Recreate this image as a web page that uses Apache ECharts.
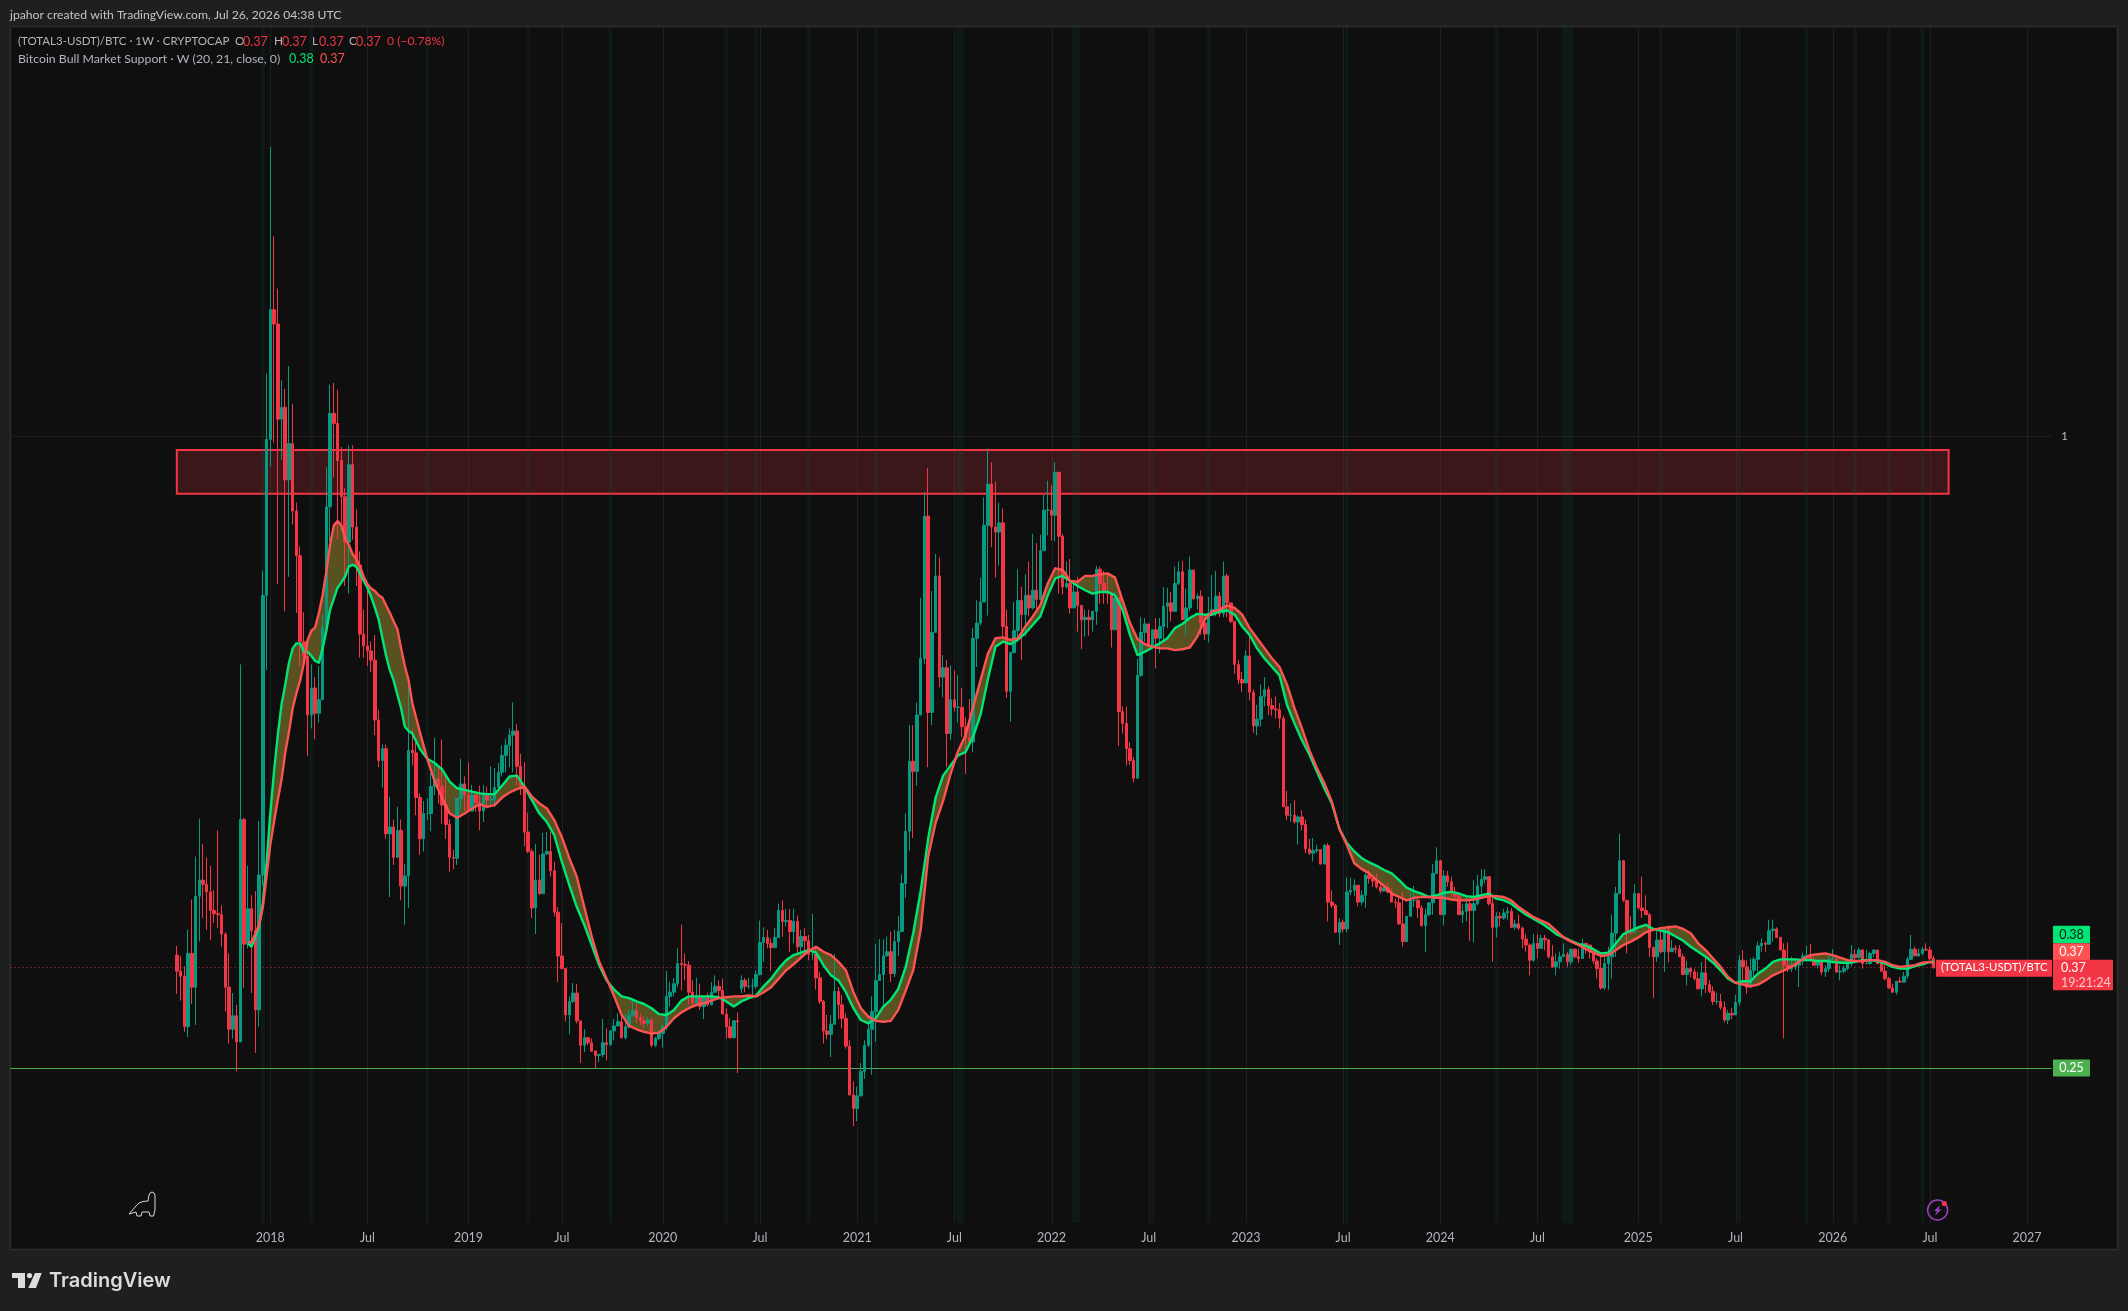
<!DOCTYPE html>
<html><head><meta charset="utf-8">
<style>html,body{margin:0;padding:0;background:#1f1f1f;overflow:hidden}#c{width:2128px;height:1311px}</style>
<script src="https://cdn.jsdelivr.net/npm/echarts@6/dist/echarts.min.js"></script>
</head><body><div id="c"></div>
<script>
// Values are in thousandths of the ratio, read week by week off the picture.
const firstWeekOffset = -25;   // weeks relative to 2018-01-01
const firstOpen = 384;
const closes = [
365,359,299,386,346,454,473,468,459,437,
433,432,409,346,296,312,281,545,397,439,
413,319,479,811,996,1150,1133,1020,1034,948,
991,911,858,756,739,669,701,671,687,773,
916,1027,1015,971,928,874,966,892,847,765,
751,745,734,663,615,629,528,536,500,532,
466,478,627,624,571,522,552,552,584,593,
584,562,539,500,499,570,587,574,555,574,
565,555,574,568,569,583,601,621,633,645,
650,608,584,530,507,440,473,457,504,507,
484,435,383,368,313,329,339,306,277,286,
280,270,265,266,280,278,294,300,305,286,
299,312,318,310,306,303,307,277,285,291,
299,335,340,350,374,373,372,340,327,335,
323,335,325,340,347,342,314,299,286,306,
305,354,347,347,347,361,399,405,398,393,
405,437,424,425,412,424,394,406,401,385,
385,357,329,294,290,302,341,325,309,276,
218,202,217,246,277,296,317,354,361,383,
388,362,400,412,469,531,614,602,669,736,
905,672,767,834,714,725,647,687,678,678,
655,642,637,760,778,803,894,943,892,886,
897,774,697,743,769,805,788,811,796,817,
806,864,912,912,906,957,881,821,825,796,
815,799,782,785,782,792,842,825,815,813,
770,808,673,659,629,615,594,716,767,777,
751,770,760,774,798,802,792,825,839,782,
796,841,807,810,778,765,790,794,810,789,
834,802,780,729,711,707,739,696,656,664,
691,699,680,676,675,665,560,550,550,542,
548,539,510,505,508,509,492,514,447,443,
411,423,415,459,461,467,447,455,479,475,
472,465,460,464,459,447,446,421,400,430,
449,449,440,419,432,446,481,496,432,478,
471,459,454,432,436,445,437,445,466,474,
477,445,417,430,428,434,436,417,421,416,
403,396,378,398,392,404,402,382,370,376,
382,385,376,391,382,380,398,396,388,377,
368,345,374,382,410,457,496,449,412,411,
457,440,437,432,393,382,402,388,414,388,
392,391,382,361,368,364,356,344,363,349,
341,329,329,322,307,315,313,328,378,370,
346,366,379,395,398,397,413,415,405,390,
372,368,370,372,378,383,384,378,372,376,
364,368,379,379,364,365,368,374,385,381,
390,374,374,386,390,374,365,356,345,340,
353,352,359,379,391,383,386,391,390,380,
369];
const lows = [
338,330,293,287,326,301,400,428,414,402,
422,416,394,317,279,285,246,281,345,392,
339,268,299,466,722,964,992,824,972,792,
833,895,790,727,731,620,653,640,660,687,
773,875,951,877,896,822,813,877,822,737,
737,727,720,645,607,583,522,453,491,499,
449,420,440,609,550,503,507,544,531,574,
564,540,522,483,486,491,556,555,554,555,
554,532,542,558,562,560,582,596,601,607,
601,586,574,513,505,428,409,455,459,503,
477,430,352,367,305,290,327,303,256,269,
277,269,250,257,263,259,276,283,299,285,
284,297,311,303,301,297,299,275,275,283,
274,295,323,335,346,342,354,325,323,323,
319,308,323,325,339,334,314,285,285,286,
244,339,340,344,336,344,360,376,392,365,
392,406,406,418,388,398,386,380,388,378,
378,343,326,279,284,263,302,308,297,273,
218,181,187,216,237,275,242,281,354,325,
384,352,358,383,423,452,508,523,585,669,
729,607,657,767,702,690,607,639,673,660,
643,599,632,625,726,775,808,787,868,832,
846,762,689,661,742,758,734,762,786,794,
794,805,865,882,876,875,813,812,819,789,
796,768,747,762,763,768,776,801,801,801,
749,770,632,647,609,610,589,593,714,756,
750,750,724,742,758,772,780,813,823,782,
764,792,805,794,764,758,755,787,786,785,
785,785,778,718,706,696,707,686,648,645,
655,679,669,668,665,653,560,544,542,540,
515,532,505,503,495,505,492,493,424,440,
411,396,411,411,455,454,442,443,440,469,
465,463,457,459,457,447,440,420,394,400,
432,441,428,418,388,430,432,480,432,419,
465,453,449,432,422,424,401,399,443,457,
469,443,376,405,418,426,426,416,414,414,
392,388,360,376,380,392,390,380,369,360,
368,382,370,372,380,375,380,386,380,374,
356,343,343,343,356,382,457,447,386,408,
428,438,428,432,382,333,376,386,364,375,
388,386,382,360,348,358,354,343,335,339,
339,325,325,319,304,302,308,313,324,352,
338,347,356,364,388,388,397,400,404,390,
285,364,364,366,346,372,376,376,371,368,
360,358,364,374,363,354,362,366,371,378,
380,368,373,373,382,373,364,354,344,339,
337,351,353,356,379,383,382,384,389,378,
368];
const highs = [
395,383,371,414,450,501,546,516,500,490,
461,532,443,411,386,339,325,729,547,490,
455,460,543,840,1074,1343,1237,1175,1066,1056,
1083,1038,921,869,791,745,729,714,727,788,
963,1061,1063,1055,987,938,989,989,913,863,
794,818,756,764,675,634,634,572,545,560,
545,492,710,653,641,576,567,570,600,642,
608,640,596,545,509,570,617,596,613,586,
578,585,586,584,608,606,612,633,641,653,
684,658,623,613,553,510,516,503,529,530,
530,495,441,422,368,335,351,350,306,296,
287,285,271,267,308,297,295,308,315,315,
315,319,329,327,315,311,311,309,287,295,
303,365,352,357,392,420,386,377,354,357,
350,336,339,352,360,354,356,321,309,307,
316,360,357,357,356,366,425,417,414,404,
416,445,449,439,439,439,431,414,416,408,
433,394,364,331,313,313,385,346,337,315,
283,234,228,256,283,309,335,397,403,403,
406,412,414,430,480,552,657,657,684,808,
933,962,816,860,856,740,734,728,722,716,
701,666,688,772,805,832,927,985,969,946,
921,914,794,744,803,842,821,836,851,884,
873,883,930,947,942,969,953,884,851,854,
829,833,799,794,794,792,846,845,840,835,
815,815,808,679,679,637,619,736,785,784,
777,770,784,784,821,820,815,845,851,852,
819,857,835,813,817,787,809,835,840,815,
851,837,802,780,734,720,746,766,699,681,
705,714,703,689,691,683,668,579,564,568,
550,556,545,522,523,515,510,516,517,461,
445,428,426,476,476,474,467,461,481,485,
479,481,469,467,469,463,451,455,459,430,
459,466,451,443,439,447,492,512,497,485,
484,477,465,459,445,453,451,473,479,486,
486,477,453,435,435,439,441,440,426,432,
418,409,398,409,409,408,408,403,396,386,
388,398,388,392,392,392,403,398,396,390,
380,384,382,394,432,465,528,497,449,430,
468,457,477,455,434,394,414,414,416,419,
402,396,396,386,377,370,368,364,376,383,
354,347,339,338,329,319,321,337,384,390,
378,380,382,400,404,400,426,426,417,406,
398,399,382,378,380,387,395,397,382,378,
378,372,384,391,384,372,372,378,396,391,
393,391,390,388,391,390,374,372,358,350,
353,358,364,382,408,394,392,394,398,394,
383];
// Candles whose open visibly differs from the previous close.
const openGaps = {126:344};

// Bull-market support band, read at these week offsets.
const bandWeeks = [-6,-5,-3,-2,-1,
0,1,2,3,4,5,6,7,8,9,10,11,12,13,14,15,16,17,18,19,20,21,22,23,24,25,26,27,28,29,30,31,32,33,34,35,36,37,38,
40,42,44,46,48,50,52,54,56,58,60,62,64,66,68,70,72,74,76,78,80,82,84,86,88,90,92,94,96,98,100,102,104,106,108,110,
112,114,116,118,120,122,124,126,128,130,132,134,136,138,140,142,144,146,148,150,152,154,156,158,160,162,164,166,168,170,172,174,176,178,180,182,184,186,188,
190,192,194,196,198,200,202,204,206,208,210,212,214,216,218,220,222,224,226,228,230,232,234,236,238,240,242,244,246,248,250,252,254,256,258,260,262,264,266,268,270,
272,274,276,278,280,282,284,286,288,
290,292,294,296,298,300,302,304,306,308,310,312,314,316,318,320,322,324,326,328,330,332,334,336,338,340,342,344,346,348,350,352,354,356,358,360,362,364,366,368,370,372,374,376,378,380,382,
384,386,388,390,392,394,396,398,400,402,404,406,408,410,412,414,416,418,420,422,424,426,428,430,432,434,436,438,440,442,444,445];
const bandEma = [398,394,418,445,493,
552,602,645,681,705,731,748,754,754,744,744,739,733,731,748,769,794,807,820,826,833,845,847,845,837,828,820,809,796,782,760,739,722,710,693,677,655,650,647,
629,617,612,604,590,582,580,578,576,575,575,585,596,597,584,568,552,542,526,495,467,441,420,396,372,354,343,335,333,329,326,321,314,313,319,330,
335,335,335,335,334,329,323,329,333,336,347,356,368,378,384,387,390,387,372,360,354,340,321,307,303,309,323,331,344,370,410,460,522,571,597,609,621,625,643,
669,712,750,756,753,758,766,776,786,811,831,834,828,822,817,813,815,815,811,794,764,740,744,749,754,760,772,777,784,789,788,788,792,793,788,774,764,748,736,726,716,
681,659,639,622,602,582,564,534,517,
507,499,494,490,485,481,473,464,460,457,453,455,458,459,457,454,453,455,457,451,449,445,438,432,427,422,416,409,405,401,397,395,391,386,387,398,409,413,417,420,415,413,411,406,401,394,388,
382,375,366,356,351,353,353,362,368,376,379,379,379,378,378,377,377,376,375,375,376,378,378,377,374,370,368,368,371,373,376,376];
const bandSma = [400,399,420,441,477,
515,542,568,592,624,649,677,695,710,731,758,769,773,790,811,839,871,894,899,894,879,871,860,854,845,833,824,819,816,811,808,799,790,780,771,748,727,710,683,
649,617,590,570,552,547,552,558,563,560,562,571,577,581,584,572,564,558,544,524,499,477,441,406,376,356,335,313,300,296,293,291,292,299,309,316,
321,325,327,330,333,334,335,335,336,335,340,346,356,366,373,381,389,394,388,384,376,366,340,321,311,306,305,306,319,342,366,414,501,541,567,599,626,645,678,
710,742,760,761,758,760,774,786,799,825,843,841,828,827,834,834,836,837,832,805,778,759,753,750,748,748,746,747,749,762,782,792,794,799,796,788,772,760,748,736,726,
705,677,653,627,606,588,566,534,515,
493,486,481,473,466,457,453,449,452,453,453,452,452,450,449,449,450,452,454,454,453,449,441,435,429,425,421,413,405,400,396,391,387,383,384,390,396,400,405,411,414,416,417,418,415,410,398,
390,380,370,358,351,349,347,349,354,360,364,368,373,379,384,385,386,384,381,378,377,377,378,378,376,372,370,371,372,375,376,374];

// Faint background highlight weeks [from, to] and the resistance box.
const stripeWeeks = [[-2,-2],[11,11],[42,42],[69,69],[91,91],[122,122],[130,130],[144,144],[162,162],[184,185],[215,216],[236,236],[251,251],[288,288],[328,328],[346,348],[372,372],[393,393],[411,411],[424,424],[433,433],[442,442]];
const boxWeeks = [-25,449];
const boxRange = [0.9315,0.9834];

const tickDates = ['2018-01-01','2018-07-02','2019-01-07','2019-07-01','2020-01-06','2020-07-06','2021-01-04','2021-07-05','2022-01-03','2022-07-04','2023-01-02','2023-07-03','2024-01-01','2024-07-01','2025-01-06','2025-07-07','2026-01-05','2026-07-06','2027-01-04'];
const tickLabels = ['2018','Jul','2019','Jul','2020','Jul','2021','Jul','2022','Jul','2023','Jul','2024','Jul','2025','Jul','2026','Jul','2027'];

const lastPrice = 0.369, supportLevel = 0.25, gridLevel = 1;

const weekZero = 69, weekCount = 546;
const categories = [];
for (let i = 0; i < weekCount; i++) {
  const d = new Date(Date.UTC(2018, 0, 1) + (i - weekZero) * 7 * 864e5);
  categories.push(d.toISOString().slice(0, 10));
}
const tickMap = {};
tickDates.forEach((d, i) => { tickMap[d] = tickLabels[i]; });
const tickIdx = tickDates.map(d => categories.indexOf(d));

const candles = closes.map((c, i) => {
  const k = firstWeekOffset + i;
  const open = openGaps[k] !== undefined ? openGaps[k] : (i === 0 ? firstOpen : closes[i - 1]);
  return [k + weekZero, open / 1000, c / 1000, lows[i] / 1000, highs[i] / 1000];
});
const emaLine = bandWeeks.map((k, i) => [k + weekZero, bandEma[i] / 1000]);
const smaLine = bandWeeks.map((k, i) => [k + weekZero, bandSma[i] / 1000]);

const FONT = 'Lato, sans-serif';
const UP = '#089981', DOWN = '#f23645';
const yMin = 0.0661, yMax = 1.4854;

const chart = echarts.init(document.getElementById('c'), null, {renderer: 'canvas', width: 2128, height: 1311});

function vline(params, api) {
  const x = api.coord([api.value(0), 0])[0];
  const cs = params.coordSys;
  return {type: 'line', shape: {x1: Math.round(x) + .5, y1: cs.y, x2: Math.round(x) + .5, y2: cs.y + cs.height}, style: {stroke: '#1f1f1f', lineWidth: 1}, silent: true};
}
function stripe(params, api) {
  const a = api.coord([api.value(0), 0])[0], b = api.coord([api.value(1), 0])[0];
  const w = api.size([1, 0])[0];
  const cs = params.coordSys;
  return {type: 'rect', shape: {x: a - w / 2, y: cs.y, width: b - a + w, height: cs.height}, style: {fill: 'rgba(20,90,80,0.14)'}, silent: true};
}
function box(params, api) {
  const p0 = api.coord([boxWeeks[0] + weekZero, boxRange[1]]);
  const p1 = api.coord([boxWeeks[1] + weekZero, boxRange[0]]);
  return {type: 'rect', shape: {x: p0[0], y: p0[1], width: p1[0] - p0[0], height: p1[1] - p0[1]}, style: {fill: 'rgba(242,54,69,0.2)', stroke: DOWN, lineWidth: 2}, silent: true};
}
function band(params, api) {
  const pts = emaLine.map(p => api.coord(p)).concat(smaLine.slice().reverse().map(p => api.coord(p)));
  return {type: 'polygon', shape: {points: pts}, style: {fill: '#59511f'}, silent: true};
}

chart.setOption({
  animation: false,
  backgroundColor: 'transparent',
  grid: {left: 10.5, width: 2040.9, top: 27, height: 1196},
  xAxis: {
    type: 'category', data: categories, boundaryGap: true,
    axisLine: {show: false}, axisTick: {show: false}, splitLine: {show: false},
    axisLabel: {
      color: '#b2b5be', fontFamily: FONT, fontSize: 12.5, margin: 8, hideOverlap: false,
      interval: (i, v) => tickMap[v] !== undefined,
      formatter: v => tickMap[v] || ''
    }
  },
  yAxis: {type: 'value', min: yMin, max: yMax, show: false, splitLine: {show: false}},
  series: [
    {type: 'line', z: 1, data: [], silent: true, symbol: 'none',
      markLine: {silent: true, symbol: 'none', label: {show: false}, lineStyle: {color: '#1f1f1f', width: 1, type: 'solid'}, data: [{yAxis: gridLevel}]}},
    {type: 'custom', z: 1, data: tickIdx.map(i => [i]), renderItem: vline, encode: {x: 0}, silent: true},
    {type: 'custom', z: 2, data: [[0]], renderItem: box, silent: true},
    {type: 'custom', z: 3, data: stripeWeeks.map(s => [s[0] + weekZero, s[1] + weekZero]), renderItem: stripe, encode: {x: [0, 1]}, silent: true},
    {type: 'custom', z: 4, data: [[0]], renderItem: band, silent: true},
    {type: 'line', z: 4, data: [], silent: true, symbol: 'none',
      markLine: {silent: true, symbol: 'none', label: {show: false}, animation: false, data: [
        {yAxis: lastPrice, lineStyle: {color: DOWN, width: 1, opacity: 0.75, type: [1, 3]}},
        {yAxis: supportLevel, lineStyle: {color: '#4caf50', width: 1, type: 'solid'}}
      ]}},
    {type: 'candlestick', z: 5, data: candles, encode: {x: 0, y: [1, 2, 3, 4]}, barWidth: 3, silent: true,
      itemStyle: {color: UP, color0: DOWN, borderColor: UP, borderColor0: DOWN, borderWidth: 1}},
    {type: 'line', name: 'EMA', z: 6, data: emaLine, symbol: 'none', smooth: false, silent: true, lineStyle: {color: '#00e676', width: 2.4, join: 'round'}},
    {type: 'line', name: 'SMA', z: 7, data: smaLine, symbol: 'none', smooth: false, silent: true, lineStyle: {color: '#ff5252', width: 2.4, join: 'round'}}
  ]
});

const yPrice = chart.convertToPixel({yAxisIndex: 0}, lastPrice);
const ySupport = chart.convertToPixel({yAxisIndex: 0}, supportLevel);
const yOne = chart.convertToPixel({yAxisIndex: 0}, gridLevel);
const GREY = '#b2b5be';
function txt(x, y, text, fill, size, extra) {
  return {type: 'text', x: x, y: y, z: 20, silent: true, style: Object.assign({text: text, fill: fill, font: (size || 12.5) + 'px ' + FONT, textVerticalAlign: 'middle'}, extra || {})};
}
function tag(x, y, w, h, bg) {
  return {type: 'rect', x: x, y: y, z: 19, silent: true, shape: {width: w, height: h, r: 1}, style: {fill: bg}};
}
chart.setOption({graphic: {elements: [
  {type: 'rect', z: -10, silent: true, x: 10.5, y: 26.5, shape: {width: 2107, height: 1223}, style: {fill: '#0f0f0f', stroke: '#2c2c2c', lineWidth: 1.5}},
  txt(10, 15, 'jpahor created with TradingView.com, Jul 26, 2026 04:38 UTC', '#c4c4c4', 12.2),
  txt(18, 41.5, '(TOTAL3-USDT)/BTC · 1W · CRYPTOCAP', GREY, 11.5),
  txt(235, 41.5, 'O', GREY, 11.8), txt(243, 41.5, '0.37', DOWN),
  txt(274, 41.5, 'H', GREY, 11.8), txt(282, 41.5, '0.37', DOWN),
  txt(312, 41.5, 'L', GREY, 11.8), txt(319, 41.5, '0.37', DOWN),
  txt(349, 41.5, 'C', GREY, 11.8), txt(356, 41.5, '0.37', DOWN),
  txt(387, 41.5, '0 (−0.78%)', DOWN, 12.2),
  txt(18, 59, 'Bitcoin Bull Market Support · W (20, 21, close, 0)', GREY, 12.3),
  txt(289, 59, '0.38', '#00e676'), txt(320, 59, '0.37', '#ff5252'),
  txt(2061, yOne, '1', GREY, 12),
  tag(2053, yPrice - 42, 37, 17.5, '#00e676'), txt(2071.5, yPrice - 33, '0.38', '#0f1a14', 12.5, {textAlign: 'center'}),
  tag(2053, yPrice - 24.5, 37, 17, '#ff5252'), txt(2071.5, yPrice - 16, '0.37', '#fff', 12.5, {textAlign: 'center'}),
  tag(2053, yPrice - 8, 60, 30.5, DOWN), txt(2061, yPrice, '0.37', '#fff', 12.5), txt(2061, yPrice + 15, '19:21:24', 'rgba(255,255,255,.72)', 12.5),
  tag(1936, yPrice - 8, 116, 17, DOWN), txt(1941, yPrice, '(TOTAL3-USDT)/BTC', '#fff', 11.3),
  tag(2053, ySupport - 8.5, 37, 17, '#4caf50'), txt(2071.5, ySupport, '0.25', '#fff', 12.5, {textAlign: 'center'}),
  // watermark dinosaur and alert icon
  {type: 'polygon', z: 20, silent: true, shape: {points: [[129,1214],[136,1206],[139,1203],[143,1201.5],[148,1201],[149,1195],[150,1193],[152,1192],[154,1193],[155,1195],[155,1210],[153.5,1216],[150,1216],[149,1212],[142,1212],[141,1216],[137,1216],[136,1212]]}, style: {fill: 'none', stroke: '#d8d8d8', lineWidth: 1}},
  {type: 'circle', z: 20, silent: true, shape: {cx: 1937.6, cy: 1210, r: 10}, style: {fill: 'none', stroke: '#9c3fc0', lineWidth: 1.5}},
  {type: 'polygon', z: 20, silent: true, shape: {points: [[1940,1205],[1934,1211],[1937,1211],[1935,1215.5],[1941.5,1209.5],[1938.5,1209.5]]}, style: {fill: '#9c3fc0'}},
  {type: 'circle', z: 21, silent: true, shape: {cx: 1944.3, cy: 1203.6, r: 2.6}, style: {fill: DOWN}},
  // TradingView logo
  {type: 'polygon', z: 20, silent: true, shape: {points: [[12,1273],[25,1273],[25,1288],[18,1288],[18,1278],[12,1278]]}, style: {fill: '#dcdcdc'}},
  {type: 'circle', z: 20, silent: true, shape: {cx: 29.5, cy: 1275.6, r: 2.6}, style: {fill: '#dcdcdc'}},
  {type: 'polygon', z: 20, silent: true, shape: {points: [[35,1273],[41.7,1273],[36,1288],[28.3,1288]]}, style: {fill: '#dcdcdc'}},
  {type: 'text', z: 20, silent: true, x: 49, y: 1280.5, style: {text: 'TradingView', fill: '#dcdcdc', font: '600 20px Inter, sans-serif', textVerticalAlign: 'middle'}}
]}});
</script></body></html>
